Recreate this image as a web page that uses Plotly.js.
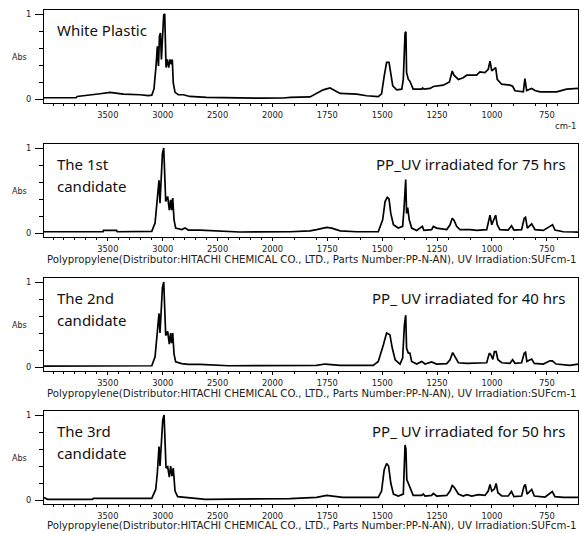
<!DOCTYPE html>
<html><head><meta charset="utf-8">
<script src="https://cdn.plot.ly/plotly-3.0.1.min.js"></script>
<style>body{margin:0;background:#fff}#c{width:581px;height:534px}</style>
</head><body><div id="c"></div>
<script>
// ---- data (wavenumber cm-1, absorbance) ----
const wn1 = [4082,3790,3780,3693,3571,3480,3419,3359,3207,3131,3100,3080,3061,3049,3039,3030,3021,3012,3003,2991,2982,2976,2970,2958,2946,2934,2922,2913,2904,2888,2858,2813,2752,2600,2296,2200,2100,1950,1920,1829,1799,1769,1738,1715,1692,1616,1571,1518,1503,1491,1480,1469,1461,1452,1434,1411,1404,1396,1392,1389,1381,1374,1359,1340,1320,1316,1310,1282,1267,1222,1194,1181,1173,1153,1131,1115,1070,1055,1032,1017,1009,1001,991,983,976,956,918,906,895,857,850,842,819,804,781,705,660,608];
const ab1 = [0.015,0.015,0.03,0.04,0.062,0.078,0.07,0.058,0.05,0.04,0.045,0.116,0.39,0.62,0.39,0.74,0.775,0.465,0.70,0.99,1.0,0.70,0.37,0.465,0.37,0.465,0.41,0.465,0.19,0.078,0.05,0.05,0.03,0.02,0.012,0.008,0.01,0.012,0.02,0.025,0.066,0.108,0.13,0.097,0.066,0.058,0.038,0.027,0.06,0.27,0.43,0.43,0.31,0.155,0.108,0.116,0.23,0.775,0.79,0.31,0.23,0.21,0.116,0.12,0.116,0.13,0.116,0.124,0.147,0.163,0.20,0.33,0.28,0.23,0.25,0.28,0.28,0.32,0.31,0.35,0.445,0.33,0.35,0.37,0.23,0.174,0.163,0.15,0.097,0.085,0.24,0.10,0.124,0.10,0.085,0.085,0.116,0.124];

const wn2 = [4082,3543,3540,3420,3415,3100,3070,3049,3034,3025,3016,3003,2991,2982,2973,2955,2940,2928,2919,2909,2897,2882,2827,2797,2767,2660,2357,2300,1920,1829,1799,1753,1730,1692,1616,1518,1498,1487,1477,1469,1461,1449,1427,1407,1401,1396,1393,1389,1384,1377,1366,1343,1317,1310,1275,1267,1252,1206,1191,1181,1173,1161,1146,1100,1070,1024,1014,1009,1001,991,983,976,964,926,911,900,865,853,847,839,819,804,766,736,724,713,675,630,608];
const ab2 = [0.015,0.015,0.03,0.03,0.015,0.02,0.116,0.39,0.62,0.35,0.66,0.93,1.0,0.66,0.37,0.43,0.27,0.39,0.27,0.41,0.155,0.058,0.04,0.06,0.035,0.035,0.015,0.012,0.015,0.025,0.04,0.066,0.058,0.025,0.015,0.015,0.155,0.37,0.42,0.40,0.23,0.097,0.058,0.078,0.27,0.62,0.63,0.23,0.30,0.155,0.058,0.03,0.078,0.03,0.04,0.078,0.058,0.04,0.097,0.174,0.15,0.078,0.04,0.04,0.03,0.04,0.155,0.21,0.097,0.155,0.21,0.097,0.04,0.035,0.085,0.035,0.04,0.174,0.186,0.058,0.108,0.04,0.03,0.078,0.097,0.035,0.015,0.012,0.01];

const wn3 = [4082,3100,3070,3049,3034,3025,3016,3003,2991,2982,2973,2955,2940,2928,2919,2909,2897,2882,2827,2767,2660,2400,1920,1800,1760,1720,1692,1541,1518,1495,1480,1465,1454,1441,1419,1407,1399,1393,1389,1381,1374,1366,1343,1320,1305,1275,1252,1206,1191,1179,1168,1153,1115,1055,1024,1012,1004,996,989,981,973,955,918,906,895,865,853,847,841,819,807,766,736,725,708,645,608];
const ab3 = [0.01,0.015,0.12,0.40,0.63,0.40,0.66,0.93,1.0,0.66,0.37,0.42,0.27,0.40,0.28,0.40,0.15,0.06,0.04,0.03,0.03,0.015,0.015,0.02,0.035,0.03,0.02,0.02,0.066,0.26,0.40,0.38,0.22,0.085,0.035,0.105,0.49,0.61,0.22,0.163,0.163,0.066,0.035,0.066,0.035,0.06,0.035,0.04,0.085,0.17,0.12,0.05,0.043,0.043,0.05,0.163,0.14,0.09,0.18,0.18,0.085,0.05,0.043,0.085,0.043,0.05,0.163,0.174,0.066,0.093,0.043,0.035,0.073,0.073,0.035,0.02,0.035];

const wn4 = [4082,4070,4050,3640,3632,3100,3064,3049,3034,3025,3012,3000,2988,2979,2970,2955,2940,2928,2916,2904,2888,2864,2782,2660,2610,1920,1799,1753,1723,1680,1518,1503,1491,1480,1471,1461,1449,1427,1404,1399,1396,1392,1388,1380,1371,1359,1320,1313,1305,1275,1267,1252,1206,1191,1181,1172,1153,1131,1115,1092,1062,1032,1017,1009,1001,989,981,973,955,926,911,900,865,854,848,840,819,807,758,736,725,713,675,608];
const ab4 = [0.03,0.02,0.008,0.008,0.02,0.02,0.124,0.32,0.63,0.40,0.667,0.94,1.0,0.66,0.376,0.39,0.27,0.40,0.28,0.376,0.105,0.04,0.03,0.02,0.008,0.016,0.03,0.054,0.047,0.03,0.03,0.105,0.357,0.43,0.40,0.2,0.07,0.047,0.07,0.395,0.647,0.60,0.24,0.19,0.13,0.054,0.054,0.07,0.047,0.054,0.078,0.047,0.054,0.105,0.171,0.15,0.07,0.047,0.062,0.047,0.062,0.054,0.105,0.184,0.105,0.13,0.194,0.085,0.047,0.047,0.1,0.04,0.047,0.16,0.184,0.07,0.124,0.047,0.035,0.078,0.1,0.04,0.03,0.03];

const nameLine1 = ["White Plastic", "The 1st", "The 2nd", "The 3rd"];
const nameLine2 = ["", "candidate", "candidate", "candidate"];
const panelNotes = ["", "PP_UV irradiated for 75 hrs", "PP_ UV irradiated for 40 hrs", "PP_ UV irradiated for 50 hrs"];
const majorWn = [3500,3000,2500,2000,1750,1500,1250,1000,750];
const majorLabels = ["3500","3000","2500","2000","1750","1500","1250","1000","750"];
const footer = "Polypropylene(Distributor:HITACHI CHEMICAL CO., LTD., Parts Number:PP-N-AN), UV Irradiation:SUFcm-1";

// ---- x scale: double expansion below 2000 cm-1 ----
function tx(w){ return w > 2000 ? -(w - 2000) / 2 : 2000 - w; }
const minorWn = [];
for (let w = 4000; w >= 700; w -= 100) if (majorWn.indexOf(w) < 0) minorWn.push(w);

const H = 534;
const tops = [10, 144, 278, 411];
const footGap = [0, 22, 22, 21];
const ph = 93;
const P = py => 1 - py / H;

const wns = [wn1, wn2, wn3, wn4], abs = [ab1, ab2, ab3, ab4];
const smallFont = {family: "DejaVu Sans, sans-serif", size: 8.3, color: "#222"};
const bigFont = {family: "Noto Sans, sans-serif", size: 15, color: "#111"};
const data = [], layout = {
  width: 581, height: 534, margin: {l: 44, r: 3, t: 0, b: 0},
  paper_bgcolor: "#fff", plot_bgcolor: "#fff", showlegend: false,
  font: smallFont, annotations: []
};
for (let i = 0; i < 4; i++) {
  const s = i === 0 ? "" : String(i + 1);
  data.push({x: wns[i].map(tx), y: abs[i], type: "scatter", mode: "lines",
    line: {color: "#000", width: 1.7}, xaxis: "x" + s, yaxis: "y" + s, hoverinfo: "none"});
  const top = tops[i], bot = top + ph;
  layout["xaxis" + s] = {
    domain: [0, 1], anchor: "y" + s, range: [-1041, 1392],
    showgrid: false, zeroline: false, showline: true, mirror: true, linecolor: "#000", linewidth: 1,
    ticks: "outside", ticklen: 3, tickcolor: "#000", tickwidth: 1,
    tickvals: majorWn.map(tx), ticktext: majorLabels, tickfont: smallFont,
    ticklabelstandoff: 1,
    minor: {tickvals: minorWn.map(tx), ticks: "outside", ticklen: 2, tickcolor: "#000", showgrid: false}
  };
  layout["yaxis" + s] = {
    domain: [P(bot), P(top)], anchor: "x" + s, range: [-0.047, 1.047],
    showgrid: false, zeroline: false, showline: true, mirror: true, linecolor: "#000", linewidth: 1,
    ticks: "outside", ticklen: 8, tickcolor: "#000", tickwidth: 1,
    tickvals: [0, 1], ticktext: ["0", "1"], tickfont: smallFont, ticklabelstandoff: 2,
    minor: {tickvals: [0.2, 0.4, 0.6, 0.8], ticks: "outside", ticklen: 4, tickcolor: "#000", showgrid: false}
  };
  layout.annotations.push({xref: "paper", yref: "paper", x: -0.045, y: P(top + 47), text: "Abs",
    showarrow: false, xanchor: "center", yanchor: "middle",
    font: {family: "DejaVu Sans, sans-serif", size: 8, color: "#222"}});
  layout.annotations.push({xref: "paper", yref: "paper", x: 11 / 534, y: P(top + 20), text: nameLine1[i],
    showarrow: false, xanchor: "left", yanchor: "middle", font: bigFont});
  if (nameLine2[i]) layout.annotations.push({xref: "paper", yref: "paper", x: 11 / 534, y: P(top + 42), text: nameLine2[i],
    showarrow: false, xanchor: "left", yanchor: "middle", font: bigFont});
  if (panelNotes[i]) layout.annotations.push({xref: "paper", yref: "paper", x: 524 / 534, y: P(top + 20), text: panelNotes[i],
    showarrow: false, xanchor: "right", yanchor: "middle", font: bigFont});
  if (i === 0) {
    layout.annotations.push({xref: "paper", yref: "paper", x: 1, y: P(126), text: "cm-1",
      showarrow: false, xanchor: "right", yanchor: "middle",
      font: {family: "DejaVu Sans, sans-serif", size: 8.5, color: "#222"}});
  } else {
    layout.annotations.push({xref: "paper", yref: "paper", x: 1, y: P(bot + footGap[i]), text: footer,
      showarrow: false, xanchor: "right", yanchor: "middle", borderpad: 0,
      font: {family: "DejaVu Sans, sans-serif", size: 10.2, color: "#222"}});
  }
}
Plotly.newPlot("c", data, layout, {staticPlot: true});
</script></body></html>
